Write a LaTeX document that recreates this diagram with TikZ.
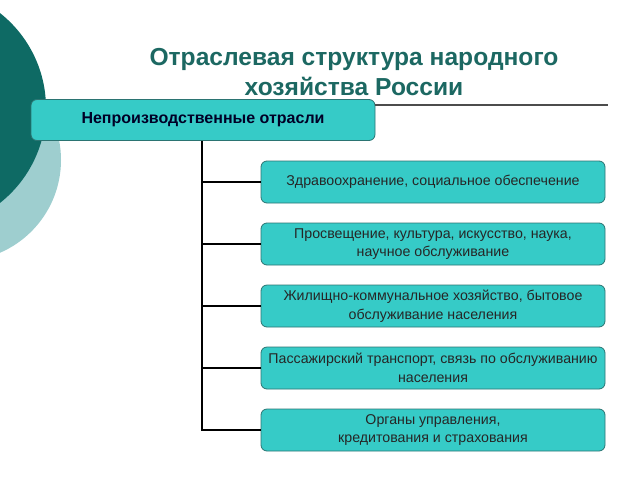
\documentclass[tikz,border=0pt]{standalone}
\usepackage{fontspec}
\setmainfont{Liberation Sans}
\usepackage{xcolor}
\usepackage{tikz}
\usetikzlibrary{positioning}

\definecolor{deepteal}{HTML}{0E6A64}
\definecolor{paleteal}{HTML}{9ECECF}
\definecolor{boxfill}{HTML}{36CBC7}
\definecolor{boxline}{HTML}{2B7472}
\definecolor{titleteal}{HTML}{1C6862}

\tikzset{
  headbox/.style={draw=boxline, fill=boxfill, thick, rounded corners=6pt,
    minimum width=344pt, minimum height=41pt, inner sep=0pt,
    font=\fontsize{16}{19}\selectfont\bfseries, text=black!85!blue},
  branchbox/.style={draw=boxline, fill=boxfill, thick, rounded corners=6pt,
    minimum width=344pt, minimum height=42pt, inner sep=0pt, align=center,
    font=\fontsize{14.2}{18.5}\selectfont, text=black!85},
  link/.style={line width=1.8pt, black}
}

\begin{document}
\begin{tikzpicture}[x=1pt,y=-1pt]
    \useasboundingbox (0,0) rectangle (640,480);
    \clip (0,0) rectangle (640,480);
    % background discs
    \fill[paleteal] (-40,160) circle (101);
    \fill[deepteal] (-75,108) circle (121);
    %
    \node[font=\fontsize{24.6}{30}\selectfont\bfseries, text=titleteal, align=center]
      (title) at (354,72) {Отраслевая структура народного\\хозяйства России};
    \coordinate (ruleend) at (608,105);
    \node[headbox] (head) at (203,120) {Непроизводственные отрасли};
    \draw[black!70, line width=1.2pt] (head.east |- ruleend) -- (ruleend);
    %
    \node[branchbox] (health) at (433,182) {Здравоохранение, социальное обеспечение};
    \node[branchbox] (educ) at (433,244) {Просвещение, культура, искусство, наука,\\научное обслуживание};
    \node[branchbox] (housing) at (433,306) {Жилищно-коммунальное хозяйство, бытовое\\обслуживание населения};
    \node[branchbox] (transport) at (433,368) {Пассажирский транспорт, связь по обслуживанию\\населения};
    \node[branchbox] (admin) at (433,430) {Органы управления,\\кредитования и страхования};
    %
    \draw[link] (head.south -| 202,0) |- (admin.west);
    \foreach \b in {health,educ,housing,transport}
      \draw[link] (\b.west -| 202,0) -- (\b.west);
  \end{tikzpicture}
\end{document}
